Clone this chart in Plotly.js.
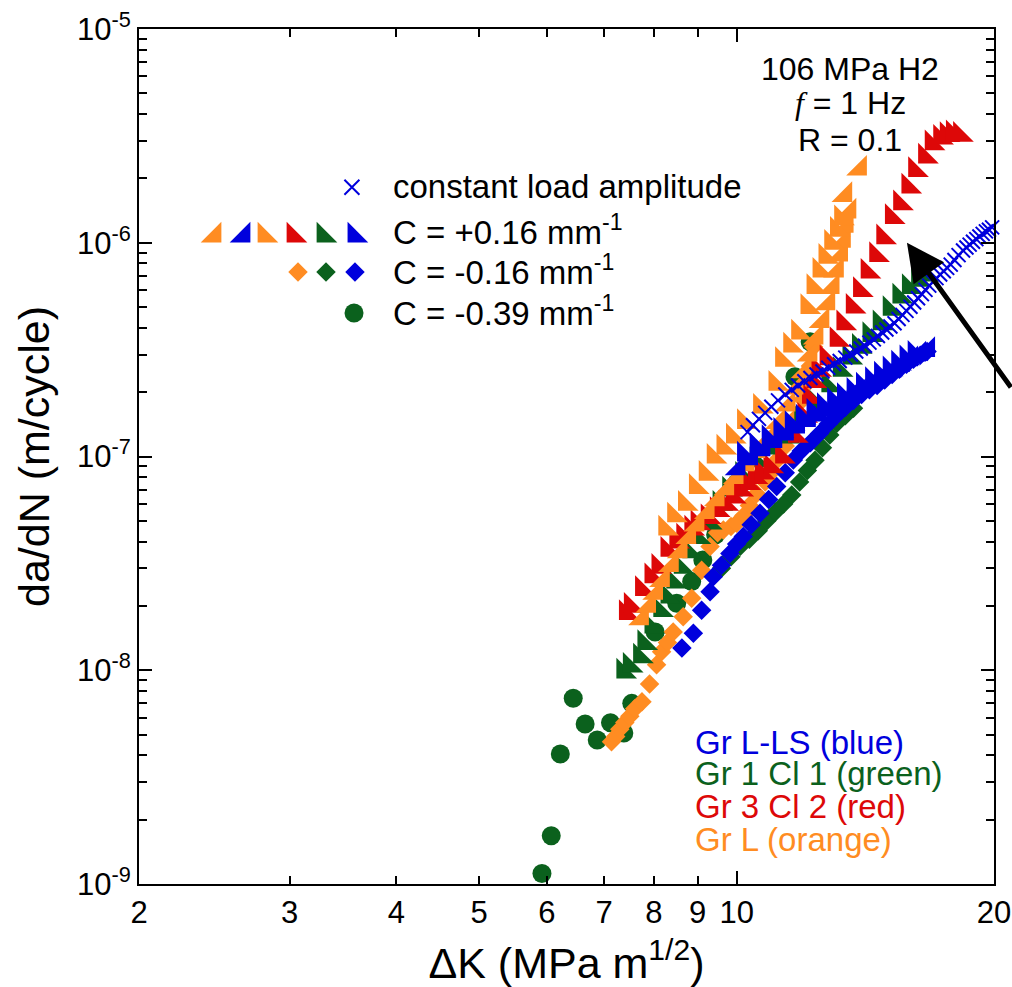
<!DOCTYPE html>
<html><head><meta charset="utf-8">
<script src="https://cdn.plot.ly/plotly-3.0.1.min.js"></script>
<style>html,body{margin:0;padding:0;background:#fff}</style>
</head><body>
<div id="chart" style="width:1012px;height:987px"></div>
<script>
// ---------- data (ΔK in MPa m^1/2, da/dN in m/cycle) ----------
// C = -0.39 mm^-1, Gr 1 Cl 1 (green circles)
const gcX = [5.92,6.07,6.22,6.44,6.65,6.87,7.12,7.38,7.54,8.03,8.51,8.86,9.13,9.45,10.0,11.7,12.19];
const gcY = [1.12e-9,1.68e-9,4.06e-9,7.39e-9,5.6e-9,4.72e-9,5.68e-9,5.09e-9,7.0e-9,1.51e-8,2.06e-8,2.6e-8,3.28e-8,4.3e-8,7.49e-8,2.36e-7,3.44e-7];

// C = -0.16 mm^-1 diamonds
const odX = [7.14,7.22,7.3,7.4,7.5,7.6,7.75,7.91,8.06,8.17,8.3,8.43,8.66,8.86,9.1,9.31,9.5,9.65,9.85,10.0,10.2,10.35,10.55,10.8,11.0,11.2,11.4,11.6,11.8,11.95,12.1,12.2,12.3];
const odY = [4.63e-9,4.9e-9,5.3e-9,5.7e-9,6.1e-9,6.6e-9,7.13e-9,8.62e-9,1.06e-8,1.22e-8,1.35e-8,1.51e-8,1.78e-8,2.17e-8,2.94e-8,3.79e-8,4.4e-8,4.53e-8,4.7e-8,4.87e-8,5.3e-8,5.9e-8,6.7e-8,7.6e-8,8.5e-8,9.8e-8,1.12e-7,1.3e-7,1.55e-7,1.85e-7,2.2e-7,2.65e-7,3.26e-7];
const gdX = [9.6,9.85,10.1,10.35,10.6,10.85,11.1,11.35,11.6,11.85,12.1,12.35,12.6,12.85,13.1,13.4,13.7];
const gdY = [3.0e-8,3.4e-8,3.8e-8,4.1e-8,4.5e-8,5.0e-8,5.5e-8,6.0e-8,6.6e-8,7.6e-8,8.6e-8,9.6e-8,1.1e-7,1.26e-7,1.43e-7,1.55e-7,1.68e-7];
const bdX = [8.63,8.9,9.1,9.31,9.39,9.6,9.82,10.0,10.18,10.4,10.65,10.9,11.14,11.4,11.65,11.9,12.2,12.5,12.8,13.1,13.4,13.7,14.0,14.3,14.6,14.9,15.2,15.5,15.8,16.1,16.4,16.7];
const bdY = [1.27e-8,1.49e-8,1.91e-8,2.33e-8,2.74e-8,3.1e-8,3.52e-8,3.9e-8,4.22e-8,4.8e-8,5.42e-8,6.3e-8,7.23e-8,8.4e-8,9.64e-8,1.06e-7,1.16e-7,1.28e-7,1.42e-7,1.56e-7,1.7e-7,1.83e-7,1.95e-7,2.05e-7,2.15e-7,2.28e-7,2.42e-7,2.56e-7,2.7e-7,2.85e-7,2.98e-7,3.1e-7];

// C = +0.16 mm^-1 triangles
const gtX = [7.37,7.5,7.71,7.8,7.95,8.14,8.3,8.43,8.6,8.8,9.0,9.28,9.55,9.8,10.15,10.55,11.0,11.44,11.9,12.4,12.8,13.2,13.55,13.9,14.3,14.7,15.1,15.5,15.9,16.3,16.7];
const gtY = [9.85e-9,1.05e-8,1.16e-8,1.34e-8,1.6e-8,1.91e-8,2.21e-8,2.6e-8,3.05e-8,3.6e-8,4.2e-8,4.9e-8,6.0e-8,7.0e-8,8.2e-8,9.6e-8,1.1e-7,1.24e-7,1.5e-7,1.77e-7,2.15e-7,2.54e-7,2.9e-7,3.26e-7,3.7e-7,4.2e-7,4.9e-7,5.6e-7,6.2e-7,6.7e-7,7.1e-7];
const rtX = [7.42,7.52,7.75,7.95,8.1,8.3,8.5,8.66,8.85,9.0,9.25,9.48,9.7,9.9,10.1,10.3,10.5,10.7,10.95,11.3,11.7,12.0,12.15,12.3,12.46,12.74,13.09,13.33,13.67,13.94,14.23,14.56,14.84,15.19,15.53,15.88,16.17,16.61,16.91,17.3,17.61,17.9,18.25];
const rtY = [1.85e-8,2.0e-8,2.4e-8,2.75e-8,3.05e-8,3.66e-8,4.0e-8,4.22e-8,4.6e-8,4.87e-8,5.2e-8,5.62e-8,6.0e-8,6.49e-8,7.0e-8,7.5e-8,8.0e-8,8.4e-8,9.0e-8,1.0e-7,1.25e-7,1.55e-7,1.9e-7,2.25e-7,2.54e-7,2.88e-7,3.51e-7,4.2e-7,5.02e-7,6.01e-7,7.32e-7,8.76e-7,1.06e-6,1.32e-6,1.53e-6,1.83e-6,2.19e-6,2.53e-6,2.92e-6,3.1e-6,3.19e-6,3.25e-6,3.2e-6];
const otaX = [7.75,7.9,8.05,8.2,8.4,8.6,8.8,9.0,9.25,9.5,9.75,10.0,10.3,10.6,10.9,11.2,11.5,11.75,12.0,12.2,12.4,12.6,12.8,12.95,13.1,13.25,13.35,13.45,13.55,13.4,13.94];
const otaY = [1.75e-8,2.0e-8,2.3e-8,2.64e-8,3.1e-8,3.6e-8,4.2e-8,4.8e-8,5.5e-8,6.3e-8,7.1e-8,8.0e-8,9.2e-8,1.06e-7,1.22e-7,1.45e-7,1.75e-7,2.1e-7,2.5e-7,3.0e-7,3.6e-7,4.3e-7,5.2e-7,6.2e-7,7.4e-7,8.8e-7,1.02e-6,1.2e-6,1.4e-6,1.67e-6,2.22e-6];
const otbX = [8.25,8.45,8.7,8.96,9.2,9.4,9.65,9.9,10.2,10.65,11.1,11.3,11.55,11.8,12.1,12.3,12.5,12.7,12.9,13.1,13.25];
const otbY = [4.6e-8,5.3e-8,6.0e-8,7.2e-8,8.3e-8,9.98e-8,1.1e-7,1.24e-7,1.45e-7,1.71e-7,2.19e-7,2.83e-7,3.3e-7,3.8e-7,5.0e-7,6.2e-7,7.4e-7,8.6e-7,1.0e-6,1.15e-6,1.3e-6];
const btaX = [10.05,10.4,10.75,11.1,11.45,11.8,12.15,12.5,12.85,13.2,13.55,13.9,14.25,14.6,14.95,15.3,15.65,16.0,16.35,16.75];
const btaY = [8.8e-8,9.8e-8,1.08e-7,1.18e-7,1.28e-7,1.38e-7,1.48e-7,1.57e-7,1.66e-7,1.76e-7,1.88e-7,2.0e-7,2.12e-7,2.25e-7,2.38e-7,2.52e-7,2.68e-7,2.85e-7,3.0e-7,3.15e-7];
const btbX = [10.2,10.55,10.9,11.25,11.6,11.95,12.3,12.65,13.0,13.35,13.7,14.05,14.4,14.75,15.1,15.45,15.8,16.15];
const btbY = [1.02e-7,1.12e-7,1.22e-7,1.32e-7,1.42e-7,1.52e-7,1.62e-7,1.72e-7,1.82e-7,1.92e-7,2.03e-7,2.15e-7,2.28e-7,2.42e-7,2.56e-7,2.72e-7,2.88e-7,3.02e-7];

// constant load amplitude (blue crosses)
const bxX = [10.30,10.45,10.62,10.80,10.98,11.18,11.40,11.60,11.80,12.00,12.20,12.40,12.60,12.80,13.00,13.20,13.40,13.60,13.80,13.97,14.13,14.30,14.47,14.63,14.80,14.97,15.13,15.30,15.47,15.63,15.80,15.97,16.13,16.30,16.47,16.63,16.80,16.97,17.13,17.30,17.47,17.63,17.80,17.98,18.18,18.40,18.57,18.73,18.90,19.07,19.23,19.40,19.57,19.73,19.90];
const bxY = [1.30e-7,1.40e-7,1.50e-7,1.60e-7,1.71e-7,1.83e-7,1.95e-7,2.05e-7,2.15e-7,2.25e-7,2.33e-7,2.42e-7,2.50e-7,2.60e-7,2.70e-7,2.80e-7,2.90e-7,3.00e-7,3.10e-7,3.20e-7,3.30e-7,3.41e-7,3.53e-7,3.66e-7,3.80e-7,3.93e-7,4.06e-7,4.20e-7,4.40e-7,4.60e-7,4.80e-7,5.02e-7,5.25e-7,5.50e-7,5.75e-7,6.02e-7,6.30e-7,6.56e-7,6.83e-7,7.10e-7,7.36e-7,7.63e-7,7.90e-7,8.30e-7,8.75e-7,9.20e-7,9.50e-7,9.80e-7,1.01e-6,1.04e-6,1.07e-6,1.10e-6,1.13e-6,1.15e-6,1.18e-6];

// ticks
const xTickVals = [2,3,4,5,6,7,8,9,10,20];
const xTickText = ['2','3','4','5','6','7','8','9','10','20'];
const yTickVals = [1e-9,1e-8,1e-7,1e-6,1e-5];
const yTickText = ['10<sup>-9</sup>','10<sup>-8</sup>','10<sup>-7</sup>','10<sup>-6</sup>','10<sup>-5</sup>'];
const yMinorVals = [];
[-9,-8,-7,-6].forEach(e => { for (let m = 2; m <= 9; m++) yMinorVals.push(m * Math.pow(10, e)); });

// legend texts
const legendTexts = ['constant load amplitude','C = +0.16 mm<sup>-1</sup>','C = -0.16 mm<sup>-1</sup>','C = -0.39 mm<sup>-1</sup>'];
const groupLabels = ['Gr L-LS (blue)','Gr 1 Cl 1 (green)','Gr 3 Cl 2 (red)','Gr L (orange)'];

// ---------- styles ----------
const BLUE = '#0000dd', GREEN = '#0b611d', RED = '#dd0808', ORANGE = '#ff8c22';
const FONT = 'Liberation Sans, Arial, Helvetica, sans-serif';
const TRI = 23, DIA = 15, CIR = 19;

function pts(x, y, color, symbol, size, extra) {
  return Object.assign({
    type: 'scatter', mode: 'markers', x: x, y: y, hoverinfo: 'skip',
    marker: {color: color, symbol: symbol, size: size, line: {width: 0}}
  }, extra || {});
}

const traces = [
  pts(gcX, gcY, GREEN, 'circle', CIR),
  pts(odX, odY, ORANGE, 'diamond', DIA),
  pts(gdX, gdY, GREEN, 'diamond', DIA),
  pts(bdX, bdY, BLUE, 'diamond', DIA),
  pts(gtX, gtY, GREEN, 'triangle-sw', TRI),
  pts(rtX, rtY, RED, 'triangle-sw', TRI),
  pts(otaX, otaY, ORANGE, 'triangle-se', TRI),
  pts(otbX, otbY, ORANGE, 'triangle-sw', TRI),
  pts(btaX, btaY, BLUE, 'triangle-se', TRI),
  pts(btbX, btbY, BLUE, 'triangle-sw', TRI),
  {type:'scatter', mode:'markers', x: bxX, y: bxY, hoverinfo:'skip', cliponaxis:false,
   marker:{symbol:'x-thin-open', size:14, color:BLUE, line:{color:BLUE, width:2}}}
];

// legend symbols on an overlay paper-like axis (positions only)
const L = {
  x:   [0.249],            y:  [0.815],
  triX:[0.0883,0.1222,0.1468,0.1807,0.2158,0.2520], triY: 0.7585,
  diaX:[0.186,0.2187,0.2526], diaY: 0.7158,
  cirX:[0.2515], cirY: 0.6678
};
const legA = {xaxis:'x2', yaxis:'y2', hoverinfo:'skip', cliponaxis:false};
traces.push(Object.assign({type:'scatter', mode:'markers', x:L.x, y:L.y,
  marker:{symbol:'x-thin-open', size:15, color:BLUE, line:{color:BLUE, width:2}}}, legA));
traces.push(Object.assign({type:'scatter', mode:'markers', x:L.triX, y:L.triX.map(()=>L.triY),
  marker:{size:TRI, line:{width:0},
    symbol:['triangle-se','triangle-se','triangle-sw','triangle-sw','triangle-sw','triangle-sw'],
    color:[ORANGE,BLUE,ORANGE,RED,GREEN,BLUE]}}, legA));
traces.push(Object.assign({type:'scatter', mode:'markers', x:L.diaX, y:L.diaX.map(()=>L.diaY),
  marker:{size:DIA, symbol:'diamond', line:{width:0}, color:[ORANGE,GREEN,BLUE]}}, legA));
traces.push(Object.assign({type:'scatter', mode:'markers', x:L.cirX, y:[L.cirY],
  marker:{size:CIR, symbol:'circle', line:{width:0}, color:GREEN}}, legA));

const legendY = [0.816, 0.765, 0.7185, 0.6705];
const groupY = [0.166, 0.1298, 0.0912, 0.0515];
const groupC = [BLUE, GREEN, RED, ORANGE];

const annotations = [];
legendTexts.forEach((t, i) => annotations.push({xref:'paper', yref:'paper', x:0.295, y:legendY[i],
  xanchor:'left', yanchor:'middle', text:t, showarrow:false, font:{family:FONT, size:33, color:'#000'}}));
groupLabels.forEach((t, i) => annotations.push({xref:'paper', yref:'paper', x:0.648, y:groupY[i],
  xanchor:'left', yanchor:'middle', text:t, showarrow:false, font:{family:FONT, size:33, color:groupC[i]}}));
const cond = ['106 MPa H2', '<span style="font-family:\'Liberation Serif\',serif"><i>f</i></span> = 1 Hz', 'R = 0.1'];
const condY = [0.953, 0.9135, 0.870];
cond.forEach((t, i) => annotations.push({xref:'paper', yref:'paper', x:0.8316, y:condY[i],
  xanchor:'center', yanchor:'middle', text:t, showarrow:false, font:{family:FONT, size:32, color:'#000'}}));
annotations.push({xref:'x', yref:'y', x:Math.log10(15.82), y:Math.log10(1.0e-6), ax:125, ay:146,
  text:'', showarrow:true, arrowhead:2, arrowsize:1.5, arrowwidth:5, arrowcolor:'#000'});

const axisCommon = {
  type:'log', showgrid:false, zeroline:false, showline:true, linecolor:'#000', linewidth:2,
  mirror:'allticks', ticks:'inside', tickcolor:'#000', tickwidth:2,
  tickfont:{family:FONT, size:31, color:'#000'}
};

const layout = {
  width:1012, height:987, margin:{l:139, r:18, t:29, b:103},
  paper_bgcolor:'#fff', plot_bgcolor:'#fff', showlegend:false,
  font:{family:FONT, color:'#000'},
  xaxis: Object.assign({}, axisCommon, {
    range:[Math.log10(2), Math.log10(20)], tickmode:'array', tickvals:xTickVals, ticktext:xTickText,
    ticklen:8, minor:{tickmode:'array', tickvals:[10], ticks:'inside', ticklen:13, tickwidth:2, tickcolor:'#000'},
    title:{text:'\u0394K (MPa m<sup>1/2</sup>)', font:{family:FONT, size:43, color:'#000'}, standoff:20}
  }),
  yaxis: Object.assign({}, axisCommon, {
    range:[-9,-5], tickmode:'array', tickvals:yTickVals, ticktext:yTickText, ticklen:13,
    minor:{tickmode:'array', tickvals:yMinorVals, ticks:'inside', ticklen:8, tickwidth:2, tickcolor:'#000'},
    title:{text:'da/dN (m/cycle)', font:{family:FONT, size:43, color:'#000'}, standoff:14}
  }),
  xaxis2:{overlaying:'x', range:[0,1], visible:false, fixedrange:true},
  yaxis2:{overlaying:'y', range:[0,1], visible:false, fixedrange:true},
  annotations: annotations
};

Plotly.newPlot('chart', traces, layout, {staticPlot:true, displayModeBar:false});
</script></body></html>
